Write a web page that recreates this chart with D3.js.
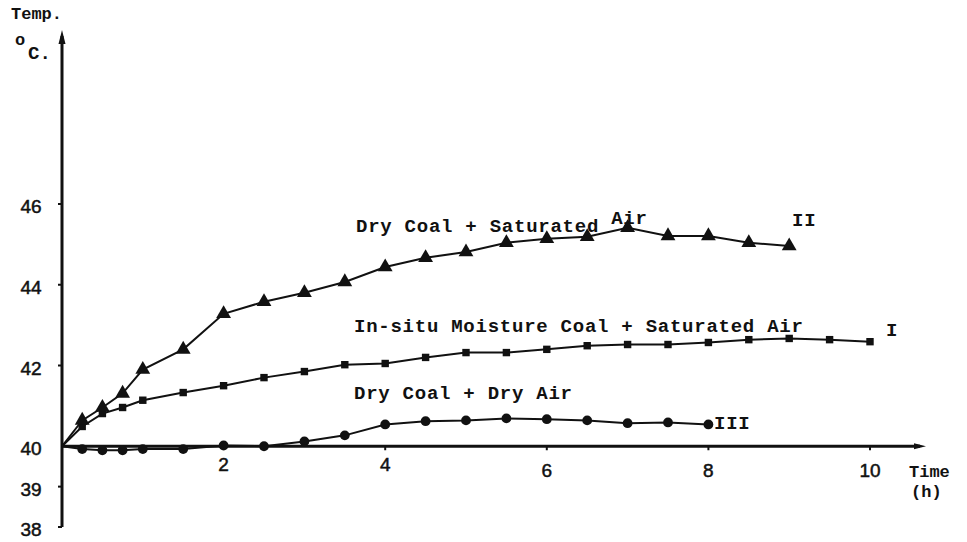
<!DOCTYPE html>
<html>
<head>
<meta charset="utf-8">
<script src="https://cdn.jsdelivr.net/npm/d3@7"></script>
<style>
  body { margin: 0; background: #fff; }
  svg { display: block; }
  .tw { font-family: "Liberation Mono", "DejaVu Sans Mono", monospace; font-weight: bold; fill: #111; }
  .num { font-family: "Liberation Sans", "DejaVu Sans", sans-serif; fill: #111; stroke: #111; stroke-width: 0.5; }
</style>
</head>
<body>
<div id="chart"></div>
<script>
// time in hours
const hours = [0, 0.25, 0.5, 0.75, 1, 1.5, 2, 2.5, 3, 3.5, 4, 4.5, 5, 5.5, 6, 6.5, 7, 7.5, 8, 8.5, 9, 9.5, 10];

// I : in-situ moisture coal + saturated air
const curveI = [40, 40.49, 40.81, 40.96, 41.14, 41.33, 41.5, 41.7, 41.85, 42.02, 42.05, 42.2, 42.32, 42.32, 42.4, 42.49, 42.52, 42.52, 42.57, 42.64, 42.67, 42.64, 42.59];
// II : dry coal + saturated air (to 9 h)
const curveII = [40, 40.64, 40.96, 41.31, 41.9, 42.4, 43.28, 43.58, 43.8, 44.07, 44.44, 44.67, 44.81, 45.04, 45.14, 45.19, 45.41, 45.21, 45.21, 45.04, 44.96];
// III : dry coal + dry air (to 8 h)
const curveIII = [40, 39.93, 39.9, 39.9, 39.93, 39.93, 40.02, 40.0, 40.12, 40.27, 40.54, 40.62, 40.64, 40.69, 40.67, 40.64, 40.57, 40.59, 40.54];

const yTicks = [38, 39, 40, 42, 44, 46];
const xTicks = [2, 4, 6, 8, 10];

const width = 967, height = 542;
const svg = d3.select("#chart").append("svg").attr("width", width).attr("height", height);

const x = d3.scaleLinear().domain([0, 10]).range([62, 870]);
const y = d3.scaleLinear().domain([38, 46]).range([527, 204]);

const ink = "#111";

// y axis with arrow at top
svg.append("line").attr("x1", x(0)).attr("x2", x(0)).attr("y1", y(38)).attr("y2", 36)
  .attr("stroke", ink).attr("stroke-width", 3);
svg.append("path").attr("d", `M${x(0) - 3.5},44 L${x(0)},30 L${x(0) + 3.5},44 Z`).attr("fill", ink);

// x axis at 40 degC with arrow at right
svg.append("line").attr("x1", x(0)).attr("x2", 920).attr("y1", y(40)).attr("y2", y(40))
  .attr("stroke", ink).attr("stroke-width", 3);
svg.append("path").attr("d", `M914,${y(40) - 3} L926,${y(40)} L914,${y(40) + 3} Z`).attr("fill", ink);

// tick marks
svg.selectAll(".yt").data(yTicks.filter(d => d !== 40)).enter().append("line")
  .attr("x1", x(0) - 4).attr("x2", x(0)).attr("y1", d => y(d)).attr("y2", d => y(d))
  .attr("stroke", ink).attr("stroke-width", 2);
svg.selectAll(".xt").data(xTicks).enter().append("line")
  .attr("x1", d => x(d)).attr("x2", d => x(d)).attr("y1", y(40)).attr("y2", y(40) + 4)
  .attr("stroke", ink).attr("stroke-width", 2);

// tick labels
svg.selectAll(".yl").data(yTicks).enter().append("text").attr("class", "num")
  .attr("x", 31).attr("y", d => y(d) + 9).attr("text-anchor", "middle")
  .attr("font-size", 19).text(d => d);
svg.selectAll(".xl").data(xTicks).enter().append("text").attr("class", "num")
  .attr("x", d => x(d)).attr("y", d => d >= 6 ? 477 : 471).attr("text-anchor", "middle")
  .attr("font-size", 19).text(d => d);

// axis titles
svg.append("text").attr("class", "tw").attr("x", 11).attr("y", 19).attr("font-size", 17).text("Temp.");
svg.append("text").attr("class", "tw").attr("x", 15).attr("y", 45).attr("font-size", 17).text("o");
svg.append("text").attr("class", "tw").attr("x", 28).attr("y", 59).attr("font-size", 19).text("C.");
svg.append("text").attr("class", "tw").attr("x", 909).attr("y", 477).attr("font-size", 17).text("Time");
svg.append("text").attr("class", "tw").attr("x", 911).attr("y", 497).attr("font-size", 17).text("(h)");

const line = d3.line().x(d => x(d[0])).y(d => y(d[1]));
const pts = vals => vals.map((v, i) => [hours[i], v]);

const series = [
  { vals: curveI, shape: d3.symbolSquare, size: 55 },
  { vals: curveII, shape: d3.symbolTriangle, size: 95 },
  { vals: curveIII, shape: d3.symbolCircle, size: 75 }
];

series.forEach(s => {
  const data = pts(s.vals);
  svg.append("path").datum(data).attr("d", line)
    .attr("fill", "none").attr("stroke", ink).attr("stroke-width", 2);
  svg.selectAll(null).data(data.slice(1)).enter().append("path")
    .attr("d", d3.symbol().type(s.shape).size(s.size))
    .attr("transform", d => `translate(${x(d[0])},${y(d[1])})`)
    .attr("fill", ink);
});

// curve annotations
const ls = 0.75;
const lab = svg.append("text").attr("class", "tw").attr("x", 356).attr("y", 232)
  .attr("font-size", 19).attr("letter-spacing", ls);
lab.append("tspan").text("Dry Coal + Saturated ");
lab.append("tspan").attr("dy", -8).text("Air");
svg.append("text").attr("class", "tw").attr("x", 792).attr("y", 226).attr("font-size", 19)
  .attr("letter-spacing", ls).text("II");

svg.append("text").attr("class", "tw").attr("x", 354).attr("y", 332).attr("font-size", 19)
  .attr("letter-spacing", ls).text("In-situ Moisture Coal + Saturated Air");
svg.append("text").attr("class", "tw").attr("x", 886).attr("y", 336).attr("font-size", 19).text("I");

svg.append("text").attr("class", "tw").attr("x", 354).attr("y", 399).attr("font-size", 19)
  .attr("letter-spacing", ls).text("Dry Coal + Dry Air");
svg.append("text").attr("class", "tw").attr("x", 714).attr("y", 429).attr("font-size", 19)
  .attr("letter-spacing", ls).text("III");
</script>
</body>
</html>
